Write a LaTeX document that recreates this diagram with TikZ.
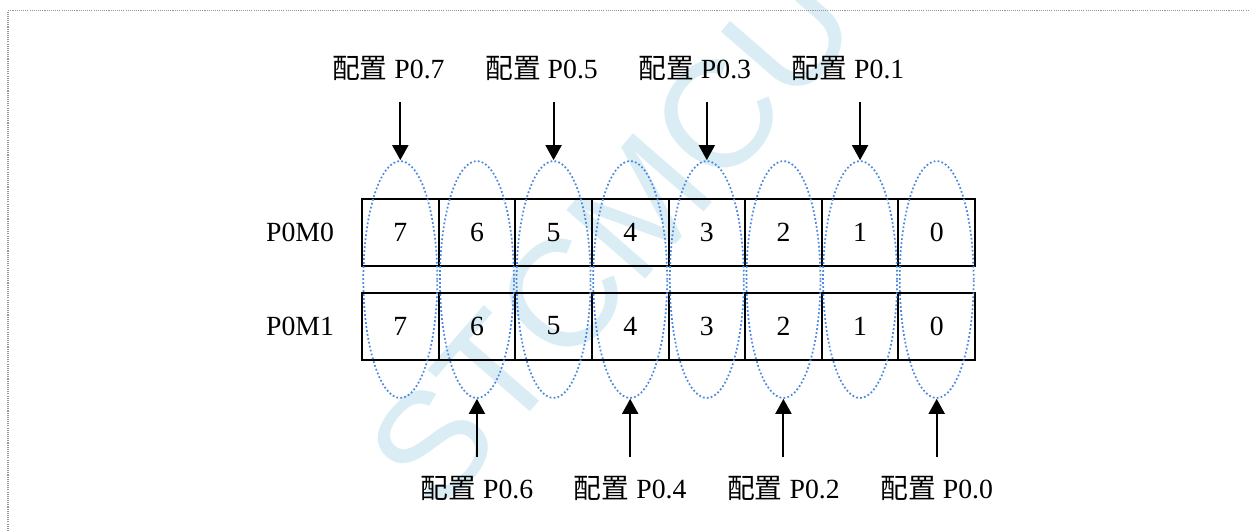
\documentclass[tikz,border=0pt]{standalone}
\usepackage{fontspec}
\setmainfont{Liberation Serif}
\newfontfamily\cjk{Noto Sans CJK SC}
\newfontfamily\wmfont{Liberation Sans}
\usetikzlibrary{shapes.geometric,arrows.meta}
\definecolor{wmcol}{RGB}{218,237,245}
\definecolor{ellcol}{RGB}{75,135,220}
\definecolor{framecol}{RGB}{150,150,150}
\begin{document}
\begin{tikzpicture}[x=0.75pt,y=-0.75pt,
  every node/.style={inner sep=0pt, font=\fontsize{20.8}{24}\selectfont},
  cell/.style={draw=black, line width=1.5pt, minimum width=57.47pt, minimum height=50.25pt},
  ellnode/.style={ellipse, draw=ellcol, line width=1.3pt, dash pattern=on 1.3pt off 1.7pt, minimum width=55.5pt, minimum height=177.75pt},
  arr/.style={line width=1.5pt, -{Triangle[length=11.25pt,width=12pt]}},
  lab/.style={},
  framestyle/.style={draw=framecol, line width=0.8pt, dash pattern=on 0.8pt off 0.8pt},
  wmtext/.style={text=wmcol, font=\wmfont\fontsize{114}{120}\selectfont}
]
\useasboundingbox (0,0) rectangle (1249,531);
% watermark
\node[wmtext, rotate=49] (wm) at (612,238) {STCMCU};
% frame
\coordinate (f1) at (8,531);
\coordinate (f2) at (8,10.7);
\coordinate (f3) at (1249,10.7);
\draw[framestyle] (f1) -- (f2) -- (f3);
% row labels
\node[lab] (r0) at (300,232.5) {P0M0};
\node[lab] (r1) at (300,326) {P0M1};
% cells
\foreach \b in {7,...,0} {
  \pgfmathsetmacro\xx{362+76.625*(7-\b+0.5)}
  \node[cell] (t\b) at (\xx,232.5) {\b};
  \node[cell] (m\b) at (\xx,326) {\b};
}
% ellipses
\foreach \b in {7,...,0} {
  \pgfmathsetmacro\xx{362+76.625*(7-\b+0.5)}
  \node[ellnode] (e\b) at (\xx,279.5) {};
}
% top arrows
\foreach \b in {7,5,3,1} {
  \pgfmathsetmacro\xx{362+76.625*(7-\b+0.5)}
  \coordinate (ts\b) at (\xx,102);
  \node[lab] (tl\b) at (\xx-12,68) {{\cjk 配置} P0.\b};
  \draw[arr] (ts\b) -- (e\b.north);
}
% bottom arrows
\foreach \b in {6,4,2,0} {
  \pgfmathsetmacro\xx{362+76.625*(7-\b+0.5)}
  \coordinate (bs\b) at (\xx,457);
  \node[lab] (bl\b) at (\xx,488) {{\cjk 配置} P0.\b};
  \draw[arr] (bs\b) -- (e\b.south);
}
\end{tikzpicture}
\end{document}
